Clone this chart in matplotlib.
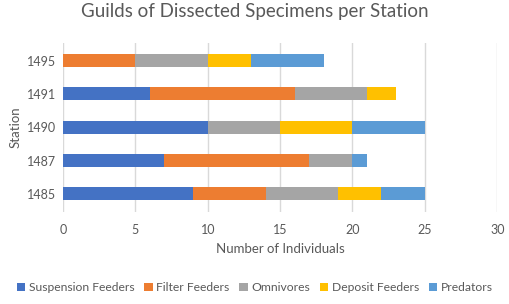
import numpy as np
import matplotlib
matplotlib.use("Agg")
import matplotlib.pyplot as plt

plt.rcParams['font.family'] = ['Lato', 'DejaVu Sans']

stations = ['1485', '1487', '1490', '1491', '1495']
guilds = ['Suspension Feeders', 'Filter Feeders', 'Omnivores', 'Deposit Feeders', 'Predators']
suspension = [9, 7, 10, 6, 0]
filter_f = [5, 10, 0, 10, 5]
omnivores = [5, 3, 5, 5, 5]
deposit = [3, 0, 5, 2, 3]
predators = [3, 1, 5, 0, 5]
colors = ['#4472C4', '#ED7D31', '#A5A5A5', '#FFC000', '#5B9BD5']

series = [suspension, filter_f, omnivores, deposit, predators]
text_c = '#595959'

fig = plt.figure(figsize=(5.1, 3.04), dpi=100)
ax = fig.add_axes([0.1235, 0.303, 0.8515, 0.556])

y = np.arange(len(stations))
left = np.zeros(len(stations))
for name, vals, c in zip(guilds, series, colors):
    ax.barh(y, vals, left=left, height=0.39, color=c, label=name, zorder=3)
    left += np.array(vals)

ax.set_xlim(0, 30)
ax.set_ylim(-0.54, 4.53)
ax.set_xticks(range(0, 31, 5))
ax.set_yticks(y)
ax.set_yticklabels(stations)
ax.grid(axis='x', color='#D9D9D9', linewidth=1, zorder=0)
for s in ax.spines.values():
    s.set_visible(False)
ax.tick_params(length=0, colors=text_c, labelsize=9)
ax.tick_params(axis='x', pad=9)
ax.tick_params(axis='y', pad=5)

ax.set_xlabel('Number of Individuals', color=text_c, fontsize=9.5, labelpad=5)
ax.set_ylabel('Station', color=text_c, fontsize=9.5, labelpad=4)
fig.suptitle('Guilds of Dissected Specimens per Station', color=text_c,
             fontsize=13.5, x=0.5, y=0.99)

fig.legend(loc='lower center', bbox_to_anchor=(0.5, 0.0), ncol=5, frameon=False,
           fontsize=8.7, labelcolor=text_c, handlelength=0.7, handleheight=0.7,
           handletextpad=0.3, columnspacing=0.8)

fig.savefig('out.png', dpi=100)
